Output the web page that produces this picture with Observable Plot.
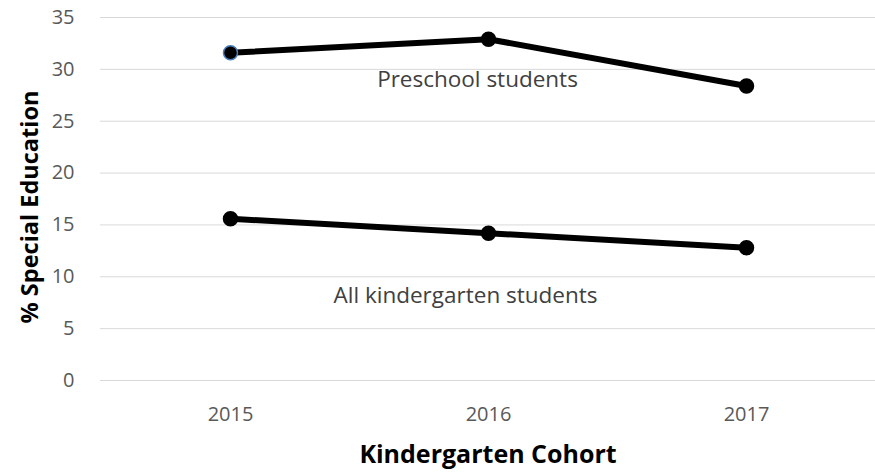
<!DOCTYPE html>
<html><head><meta charset="utf-8">
<script src="https://cdn.jsdelivr.net/npm/d3@7"></script>
<script src="https://cdn.jsdelivr.net/npm/@observablehq/plot@0.6"></script>
<style>body{margin:0;background:#fff}</style>
</head><body><div id="chart"></div>
<script>
const years = ["2015", "2016", "2017"];
const preschool = [31.6, 32.9, 28.4];
const allKinder = [15.6, 14.2, 12.8];
const seriesNames = ["Preschool students", "All kindergarten students"];
const yTicks = [0, 5, 10, 15, 20, 25, 30, 35];

const data = [];
years.forEach((y, i) => {
  data.push({year: y, value: preschool[i], series: seriesNames[0]});
  data.push({year: y, value: allKinder[i], series: seriesNames[1]});
});
const labels = [
  {year: "2016", value: 29.0, text: seriesNames[0]},
  {year: "2016", value: 8.2, text: seriesNames[1]}
];

const font = "'Open Sans', 'Noto Sans', sans-serif";
const chart = Plot.plot({
  width: 875, height: 473,
  marginLeft: 100, marginRight: 0, marginTop: 17, marginBottom: 93,
  style: {fontFamily: font, fontSize: "20px", color: "#595959", background: "#fff"},
  x: {type: "point", domain: years, padding: 0.5, label: null},
  y: {domain: [0, 35], label: null},
  marks: [
    Plot.gridY(yTicks, {stroke: "#d9d9d9", strokeOpacity: 1, strokeWidth: 1}),
    Plot.axisY({ticks: yTicks, tickSize: 0, tickPadding: 26, label: null, fill: "#595959", fontSize: 20}),
    Plot.axisX({tickSize: 0, tickPadding: 26, label: null, fill: "#595959", fontSize: 20}),
    Plot.line(data, {x: "year", y: "value", z: "series", stroke: "#000", strokeWidth: 6}),
    Plot.dot(data, {x: "year", y: "value", r: 7, fill: "#000", stroke: (d, i) => i === 0 ? "#4a7ebb" : "#000", strokeWidth: 1.5}),
    Plot.text(labels.slice(0, 1), {x: "year", y: "value", text: "text", fill: "#404040", fontSize: 22.5, dx: -11}),
    Plot.text(labels.slice(1), {x: "year", y: "value", text: "text", fill: "#404040", fontSize: 22.5, dx: -23}),
    Plot.text(["Kindergarten Cohort"], {frameAnchor: "bottom", dy: 82, fontSize: 25, fontWeight: "bold", fill: "#000"}),
    Plot.text(["% Special Education"], {frameAnchor: "left", textAnchor: "middle", dx: -70, dy: 8, rotate: -90, fontSize: 23.5, fontWeight: "bold", fill: "#000"})
  ]
});
document.getElementById("chart").appendChild(chart);
</script></body></html>
